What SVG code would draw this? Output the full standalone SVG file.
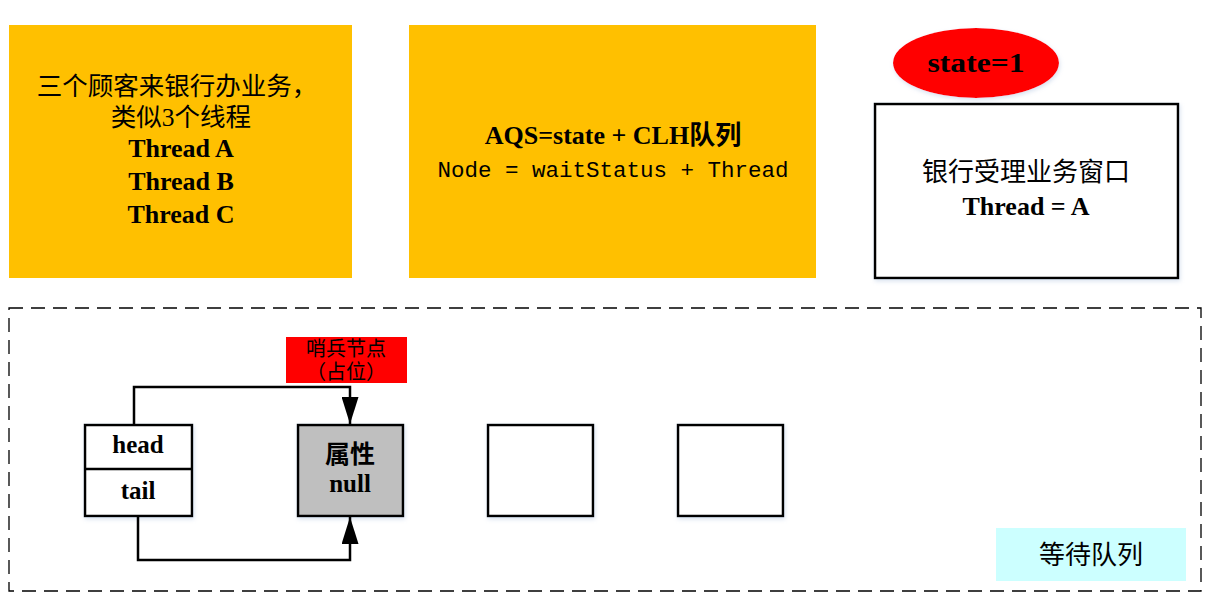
<svg xmlns="http://www.w3.org/2000/svg" width="1214" height="615" viewBox="0 0 1214 615">
<style>
.orange{fill:#FFC000}
.box{fill:#fff;stroke:#000;stroke-width:2.5}
.cn{font-family:"Liberation Serif","Noto Sans CJK SC",serif;fill:#000}
.b{font-family:"Liberation Serif","Noto Sans CJK SC",serif;font-weight:bold;fill:#000}
.mono{font-family:"Liberation Mono","Noto Sans CJK SC",monospace;fill:#000}
.conn{fill:none;stroke:#000;stroke-width:2.5}
</style>
<defs>
<marker id="arr" viewBox="0 0 10 10" refX="10" refY="5" markerWidth="10.8" markerHeight="6.8" orient="auto" markerUnits="strokeWidth" preserveAspectRatio="none">
<path d="M0,0 L10,5 L0,10 z" fill="#000"/>
</marker>
<filter id="sh" x="-10%" y="-10%" width="120%" height="120%">
<feDropShadow dx="1" dy="2" stdDeviation="2" flood-color="#9fb6d8" flood-opacity="0.4"/>
</filter>
</defs>
<rect width="1214" height="615" fill="#fff"/>

<g id="customers">
<rect class="orange" x="9" y="25" width="343" height="253"/>
<text class="cn" x="177" y="95" font-size="25.5" text-anchor="middle">三个顾客来银行办业务，</text>
<text class="cn" x="181" y="126" font-size="25.5" text-anchor="middle">类似3个线程</text>
<text class="b" x="181" y="157" font-size="26" text-anchor="middle">Thread A</text>
<text class="b" x="181" y="190" font-size="26" text-anchor="middle">Thread B</text>
<text class="b" x="181" y="223" font-size="26" text-anchor="middle">Thread C</text>
</g>

<g id="aqs">
<rect class="orange" x="409" y="25" width="407" height="253"/>
<text class="b" x="613" y="144" font-size="26" text-anchor="middle">AQS=state + CLH队列</text>
<text class="mono" x="613" y="177" font-size="22.5" text-anchor="middle">Node = waitStatus + Thread</text>
</g>

<g id="state">
<ellipse cx="976" cy="63" rx="83" ry="35" fill="#FF0000" filter="url(#sh)"/>
<text class="b" x="976" y="72" font-size="28" text-anchor="middle" textLength="97" lengthAdjust="spacingAndGlyphs">state=1</text>
</g>

<g id="window">
<rect class="box" x="875" y="104" width="303" height="174" filter="url(#sh)"/>
<text class="cn" x="1026" y="181" font-size="26" text-anchor="middle">银行受理业务窗口</text>
<text class="b" x="1026" y="215" font-size="26" text-anchor="middle">Thread = A</text>
</g>

<g id="queue">
<rect x="9" y="308" width="1192" height="283" fill="none" stroke="#000" stroke-width="1.3" stroke-dasharray="14,8"/>
</g>

<g id="queue-label">
<rect x="996" y="528" width="190" height="53" fill="#CCFFFF"/>
<text class="cn" x="1091" y="564" font-size="26" text-anchor="middle">等待队列</text>
</g>

<g id="sentinel-label">
<rect x="286" y="337" width="121" height="46" fill="#FF0000"/>
<text class="cn" x="346" y="356" font-size="20" text-anchor="middle">哨兵节点</text>
<text class="cn" x="346" y="379" font-size="20" text-anchor="middle">（占位）</text>
</g>

<g id="headtail">
<rect class="box" x="85" y="425" width="107" height="91" filter="url(#sh)"/>
<line x1="85" y1="469" x2="192" y2="469" stroke="#000" stroke-width="2.5"/>
<text class="b" x="138" y="453" font-size="25" text-anchor="middle">head</text>
<text class="b" x="138" y="499" font-size="25" text-anchor="middle">tail</text>
</g>

<g id="sentinel">
<rect x="298" y="425" width="105" height="91" fill="#BFBFBF" stroke="#000" stroke-width="2.5" filter="url(#sh)"/>
<text class="b" x="350" y="463" font-size="25" text-anchor="middle">属性</text>
<text class="b" x="350" y="492" font-size="25" text-anchor="middle">null</text>
</g>

<g id="node2">
<rect class="box" x="488" y="425" width="105" height="91" filter="url(#sh)"/>
</g>
<g id="node3">
<rect class="box" x="678" y="425" width="105" height="91" filter="url(#sh)"/>
</g>

<g id="connectors">
<path class="conn" d="M134,425 V387 H350 V424" marker-end="url(#arr)"/>
<path class="conn" d="M138,516 V560 H350 V517" marker-end="url(#arr)"/>
</g>
</svg>
